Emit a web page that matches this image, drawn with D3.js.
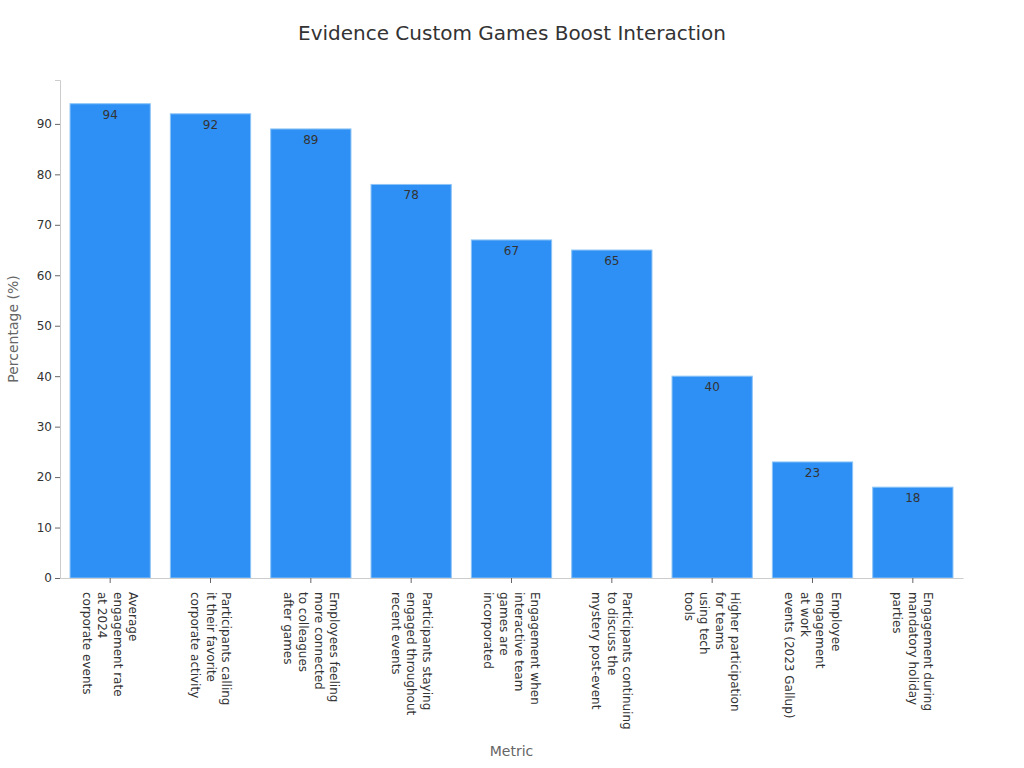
<!DOCTYPE html>
<html>
<head>
<meta charset="utf-8">
<script src="https://cdn.jsdelivr.net/npm/d3@7"></script>
<style>
  body { margin: 0; background: #fff; }
  text { font-family: "DejaVu Sans", sans-serif; }
</style>
</head>
<body>
<div id="chart"></div>
<script>
// data
let categories = [
  "Average engagement rate at 2024 corporate events",
  "Participants calling it their favorite corporate activity",
  "Employees feeling more connected to colleagues after games",
  "Participants staying engaged throughout recent events",
  "Engagement when interactive team games are incorporated",
  "Participants continuing to discuss the mystery post-event",
  "Higher participation for teams using tech tools",
  "Employee engagement at work events (2023 Gallup)",
  "Engagement during mandatory holiday parties"
];
let tickLines = [
  ["Average", "engagement rate", "at 2024", "corporate events"],
  ["Participants calling", "it their favorite", "corporate activity"],
  ["Employees feeling", "more connected", "to colleagues", "after games"],
  ["Participants staying", "engaged throughout", "recent events"],
  ["Engagement when", "interactive team", "games are", "incorporated"],
  ["Participants continuing", "to discuss the", "mystery post-event"],
  ["Higher participation", "for teams", "using tech", "tools"],
  ["Employee", "engagement", "at work", "events (2023 Gallup)"],
  ["Engagement during", "mandatory holiday", "parties"]
];
let values = [94, 92, 89, 78, 67, 65, 40, 23, 18];
let yTicks = [0, 10, 20, 30, 40, 50, 60, 70, 80, 90];

// set the dimensions and margins of the graph
let margin = {top: 80, right: 61, bottom: 190, left: 60},
    width = 1024 - margin.left - margin.right,
    height = 768 - margin.top - margin.bottom;

let root = d3.select("#chart")
    .append("svg")
        .attr("width", 1024)
        .attr("height", 768);

let svg = root.append("g")
        .attr("transform", "translate(" + margin.left + "," + margin.top + ")");

// title
root.append("text")
    .attr("x", 512)
    .attr("y", 40)
    .attr("text-anchor", "middle")
    .style("font-size", "20px")
    .style("fill", "#333")
    .text("Evidence Custom Games Boost Interaction");

// X scale
let x = d3.scaleBand()
    .domain(categories)
    .range([0, width])
    .paddingInner(0.2)
    .paddingOuter(0.1);

// Y scale
let y = d3.scaleLinear()
    .domain([0, d3.max(values) * 1.05])
    .range([height, 0]);

// bars
svg.append("g")
    .selectAll("rect")
    .data(values)
    .enter()
    .append("rect")
        .attr("x", function(d, i) { return x(categories[i]); })
        .attr("y", function(d) { return y(d); })
        .attr("width", x.bandwidth())
        .attr("height", function(d) { return height - y(d); })
        .style("fill", "#2E90F5")
        .style("stroke", "#8cc4f7")
        .style("stroke-width", 1);

// value labels
svg.append("g")
    .selectAll("text")
    .data(values)
    .enter()
    .append("text")
        .attr("x", function(d, i) { return x(categories[i]) + x.bandwidth() / 2; })
        .attr("y", function(d) { return y(d) + 15; })
        .attr("text-anchor", "middle")
        .style("font-size", "12px")
        .style("fill", "#333")
        .text(function(d) { return d; });

// Y axis
let yAxis = svg.append("g")
    .call(d3.axisLeft(y).tickValues(yTicks).tickSize(5).tickPadding(3));
yAxis.select(".domain").attr("stroke", "#ccc");
yAxis.selectAll(".tick line").attr("stroke", "#666");
yAxis.selectAll(".tick text")
    .style("font-size", "12px")
    .style("font-family", "DejaVu Sans, sans-serif")
    .style("fill", "#333");

// X axis
let xAxis = svg.append("g")
    .attr("transform", "translate(0," + height + ")")
    .call(d3.axisBottom(x).tickSize(5).tickSizeOuter(0));
xAxis.select(".domain").attr("stroke", "#ccc");
xAxis.selectAll(".tick line").attr("stroke", "#666");
xAxis.selectAll(".tick text").remove();

// wrapped, rotated tick labels
xAxis.selectAll(".tick").each(function(d, i) {
    let lines = tickLines[i];
    let lh = 15.5;
    let t = d3.select(this).append("text")
        .attr("transform", "translate(" + ((lines.length - 1) * lh / 2 - 4) + ",14) rotate(90)")
        .attr("text-anchor", "start")
        .style("font-size", "12px")
        .style("font-family", "DejaVu Sans, sans-serif")
        .style("fill", "#333");
    lines.forEach(function(l, k) {
        t.append("tspan")
            .attr("x", 0)
            .attr("y", k * lh)
            .text(l);
    });
});

// axis titles
root.append("text")
    .attr("x", margin.left + width / 2)
    .attr("y", 756)
    .attr("text-anchor", "middle")
    .style("font-size", "14px")
    .style("fill", "#666")
    .text("Metric");

root.append("text")
    .attr("transform", "translate(18," + (margin.top + height / 2) + ") rotate(-90)")
    .attr("text-anchor", "middle")
    .style("font-size", "14px")
    .style("fill", "#666")
    .text("Percentage (%)");
</script>
</body>
</html>
